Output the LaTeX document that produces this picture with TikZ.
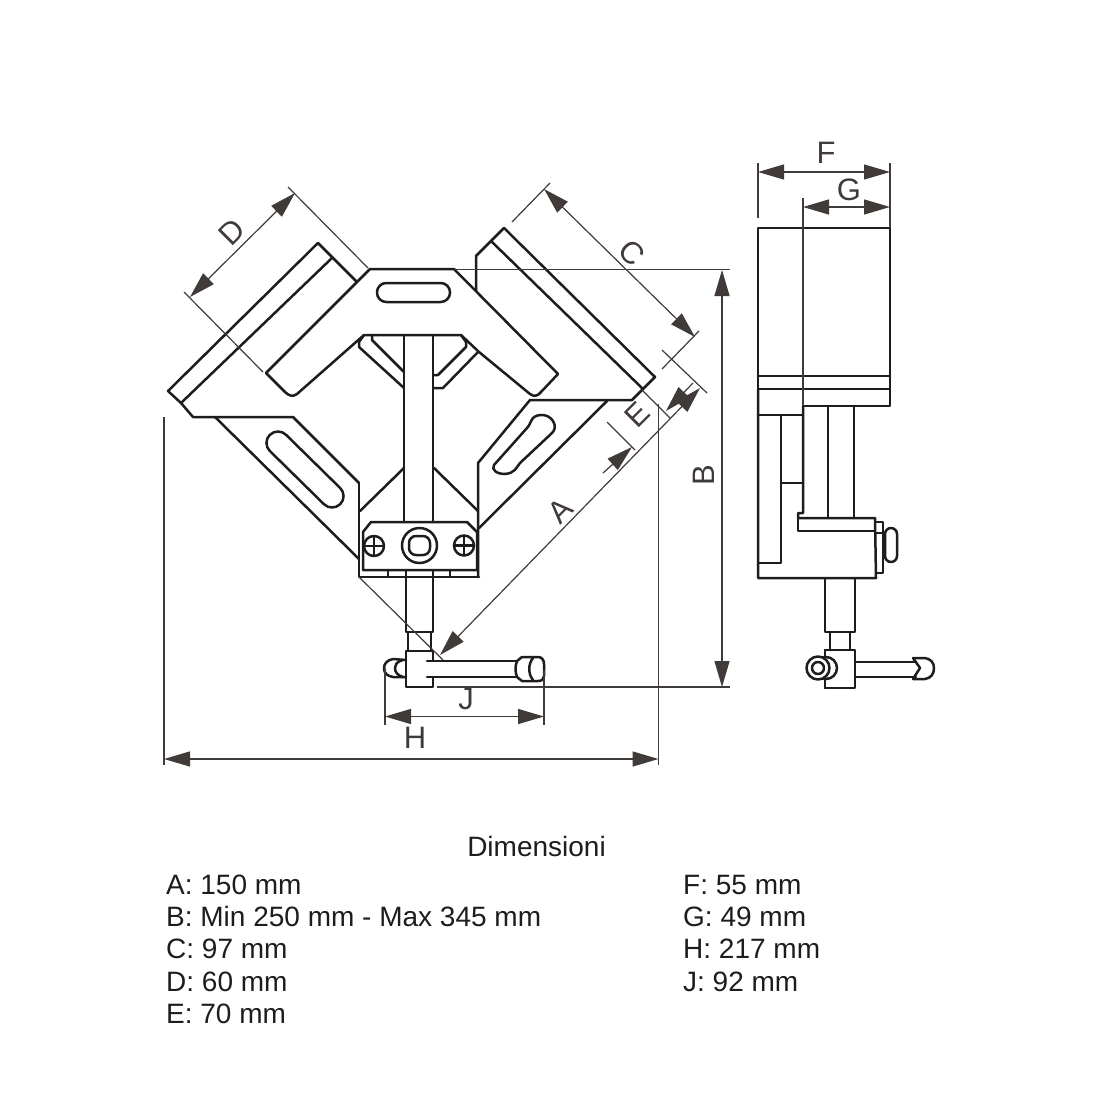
\documentclass[tikz,border=0pt]{standalone}
\usepackage{fontspec}
\setmainfont{Liberation Sans}
\usetikzlibrary{arrows.meta}
\definecolor{ink}{HTML}{1E1C1C}
\definecolor{dimc}{HTML}{403A38}
\tikzset{
  part/.style={draw=ink,line width=2.5pt,line join=round,line cap=round},
  thin line/.style={draw=dimc,line width=1.2pt},
  dimline/.style={draw=dimc,line width=1.2pt,{Triangle[length=26pt,width=15pt,fill=dimc]}-{Triangle[length=26pt,width=15pt,fill=dimc]}},
  oneend/.style={draw=dimc,line width=1.2pt,-{Triangle[length=26pt,width=15pt,fill=dimc]}},
  dimlabel/.style={text=dimc,font=\fontsize{31}{31}\selectfont,inner sep=0pt},
  listtext/.style={text=ink,font=\fontsize{28}{28}\selectfont,inner sep=0pt,anchor=base west},
}
\begin{document}
\begin{tikzpicture}[x=1pt,y=-1pt]
\useasboundingbox (0,0) rectangle (1100,1100);
% ---- front view: left jaw
\draw[part] (181,403) -- (168,391) -- (318,243) -- (357,282);
\draw[part] (193,417) -- (181,403) -- (332,258);
\draw[part] (357,282) -- (370,269) -- (454,269) -- (558,374);
\draw[part] (357,282) -- (266,373) -- (285,392) .. controls (289,396) and (293,397) .. (297,394) -- (364,335) -- (461,335) -- (479,352) -- (530,394) .. controls (534,397) and (538,396) .. (541,392) -- (558,374);
\draw[part] (193,417) -- (293,417) -- (359,483);
% ---- right jaw
\draw[part] (476,291) -- (476,256) -- (504,228) -- (655,377) -- (632,400) -- (530,400) -- (478,463) -- (478,577);
\draw[part] (492,242) -- (643,389);
\draw[part] (607,401) -- (479,528);
\draw[part] (215,417) -- (359,559);
% ---- top slot
\draw[part,rounded corners=9.3pt] (377,283) rectangle (450,302);
% ---- side slots
\draw[part,rounded corners=11.4pt] (277.9,426.8) -- (348.3,496) -- (332.1,512.2) -- (261.7,443) -- cycle;
\draw[part] (533,418) .. controls (537,414) and (548,413) .. (553,421) .. controls (556,426) and (555,430) .. (552,433) -- (520,463) .. controls (516,468) and (515,473) .. (505,474) .. controls (497,474) and (491,470) .. (494,465) -- (527,428) .. controls (530,425) and (530,422) .. (533,418) -- cycle;
% ---- inner shoulders
\draw[part] (364,335) -- (359,342) -- (359,347) -- (404,388);
\draw[part] (372,335) -- (372,340) -- (404,372);
\draw[part] (461,335) -- (466,342) -- (466,347) -- (438,375) -- (433,375);
\draw[part] (478,352) -- (443,388) -- (433,388);
% ---- centre stem and lower body
\draw[part] (404,335) -- (404,521);
\draw[part] (433,335) -- (433,521);
\draw[part] (359,483) -- (359,577) -- (479,577);
\draw[part] (360,511) -- (404,468);
\draw[part] (434,468) -- (478,511);
% ---- bolt block
\draw[part] (363,532) -- (371,522) -- (467,522) -- (477,532) -- (477,570) -- (363,570) -- cycle;
\draw[part] (388,570) -- (388,577);
\draw[part] (450,570) -- (450,577);
\draw[part] (374,546) circle[radius=10pt];
\draw[part] (364,546) -- (384,546);
\draw[part] (374,536) -- (374,556);
\draw[part] (464,545.5) circle[radius=10pt];
\draw[part] (454,545.5) -- (474,545.5);
\draw[part] (464,535.5) -- (464,555.5);
\draw[part] (419.5,545.5) ellipse[x radius=17.5pt,y radius=17.5pt];
\draw[part,rounded corners=7pt] (409,536) rectangle (430,555);
% ---- lower screw
\draw[part] (406,570) rectangle (433,632);
\draw[part] (408,632) -- (408,651);
\draw[part] (431,632) -- (431,651);
\draw[part] (406,651) rectangle (433,687);
\draw[fill=white,draw=none] (431,662.2) rectangle (436,675.8);
\draw[part] (427,661) -- (517,661);
\draw[part] (427,677) -- (517,677);
\draw[part] (517,661) -- (522,657) -- (538,657) .. controls (542,657) and (544,660) .. (544,664) -- (544,676) .. controls (544,679) and (542,681) .. (538,681) -- (522,681) -- (517,677) .. controls (515,672) and (515,666) .. (517,661);
\draw[part] (533,658) .. controls (528,664) and (528,674) .. (533,680);
\draw[part] (406,660) -- (393,659) .. controls (387,660) and (384,664) .. (384,668) .. controls (384,673) and (387,676) .. (393,677) -- (406,677);
\draw[part] (403,660) .. controls (396,662) and (395,665) .. (395,668) .. controls (395,672) and (397,675) .. (403,677);
% ---- side view
\draw[part] (758,228) rectangle (890,389);
\draw[part] (758,376) -- (890,376);
\draw[part] (890,389) -- (890,406) -- (803,406);
\draw[part] (758,389) -- (758,578) -- (876,578) -- (875,518) -- (798,518) -- (798,513) -- (803,513) -- (803,406);
\draw[part] (758,415) -- (803,415);
\draw[part] (781,415) -- (781,563) -- (758,563);
\draw[part] (781,483) -- (803,483);
\draw[part] (798,518) -- (798,531) -- (875,531);
\draw[part] (828,406) -- (828,518);
\draw[part] (854,406) -- (854,518);
\draw[part] (875,522) -- (883,522) -- (883,573) -- (876,573);
\draw[part] (875,533) -- (883,533);
\draw[part] (883,538) -- (885,538);
\draw[part] (883,553) -- (885,553);
\draw[part,rounded corners=6pt] (885,528) rectangle (897,562);
\draw[part] (825,578) rectangle (855,632);
\draw[part] (830,632) -- (830,650);
\draw[part] (850,632) -- (850,650);
\draw[part] (825,650) rectangle (855,688);
\draw[part] (855,662) -- (916,662);
\draw[part] (855,677) -- (916,677);
\draw[part] (913,658) -- (920,668) -- (913,679);
\draw[part] (913,658) -- (925,658) .. controls (931,659) and (934,663) .. (934,668) .. controls (934,674) and (931,678) .. (925,679) -- (913,679);
\draw[part,fill=white] (826,668) ellipse[x radius=11pt,y radius=11pt];
\draw[part,fill=white] (818,668) ellipse[x radius=11.5pt,y radius=11.5pt];
\draw[part] (818,668) circle[radius=6pt];
\draw[part] (825,650) -- (825,656);
\draw[part] (825,680) -- (825,688);
% ---- extension lines
\draw[thin line] (288,187) -- (368,268);
\draw[thin line] (184,292) -- (263,372);
\draw[thin line] (512,222) -- (550,183);
\draw[thin line] (662,369) -- (699,331);
\draw[thin line] (662,350) -- (707,393);
\draw[thin line] (642,390) -- (670,418);
\draw[thin line] (607,422) -- (635,450);
\draw[thin line] (164,417) -- (164,765);
\draw[thin line] (658.5,404) -- (658.5,765);
\draw[thin line] (385,668) -- (385,725);
\draw[thin line] (544,670) -- (544,725);
\draw[thin line] (454,269.5) -- (730,269.5);
\draw[thin line] (437,687) -- (730,687);
\draw[thin line] (359,577) -- (443,660);
\draw[thin line] (758,163) -- (758,218);
\draw[thin line] (890,163) -- (890,228);
\draw[thin line] (803,198) -- (803,406);
% ---- dimension lines
\draw[dimline] (190,297) -- (295,193);
\draw[dimline] (544,189) -- (695,337);
\draw[dimline] (440,655) -- (700,388);
\draw[oneend] (603,473) -- (632,447);
\draw[oneend] (693,383) -- (666,411);
\draw[dimline] (722,270) -- (722,687);
\draw[dimline] (164,759) -- (658.5,759);
\draw[dimline] (385,716.5) -- (544,716.5);
\draw[dimline] (758,172) -- (890,172);
\draw[dimline] (803,207) -- (890,207);
% ---- dimension letters
\node[dimlabel,rotate=45] (lA) at (560,511) {A};
\node[dimlabel,rotate=90] (lB) at (704,475) {B};
\node[dimlabel,rotate=-45] (lC) at (632,253) {C};
\node[dimlabel,rotate=45] (lD) at (232,232) {D};
\node[dimlabel,rotate=45] (lE) at (637,415) {E};
\node[dimlabel] (lF) at (826,153) {F};
\node[dimlabel] (lG) at (849,190) {G};
\node[dimlabel] (lH) at (415,738) {H};
\node[dimlabel] (lJ) at (466,699) {J};
% ---- list
\node[text=ink,font=\fontsize{28}{28}\selectfont,inner sep=0pt] (title) at (536.5,846) {Dimensioni};
\node[listtext] (a) at (166,894) {A: 150 mm};
\node[listtext] (b) at (166,926) {B: Min 250 mm - Max 345 mm};
\node[listtext] (c) at (166,958) {C: 97 mm};
\node[listtext] (d) at (166,991) {D: 60 mm};
\node[listtext] (e) at (166,1023) {E: 70 mm};
\node[listtext] (f) at (683,894) {F: 55 mm};
\node[listtext] (g) at (683,926) {G: 49 mm};
\node[listtext] (h) at (683,958) {H: 217 mm};
\node[listtext] (j) at (683,991) {J: 92 mm};
\end{tikzpicture}
\end{document}
